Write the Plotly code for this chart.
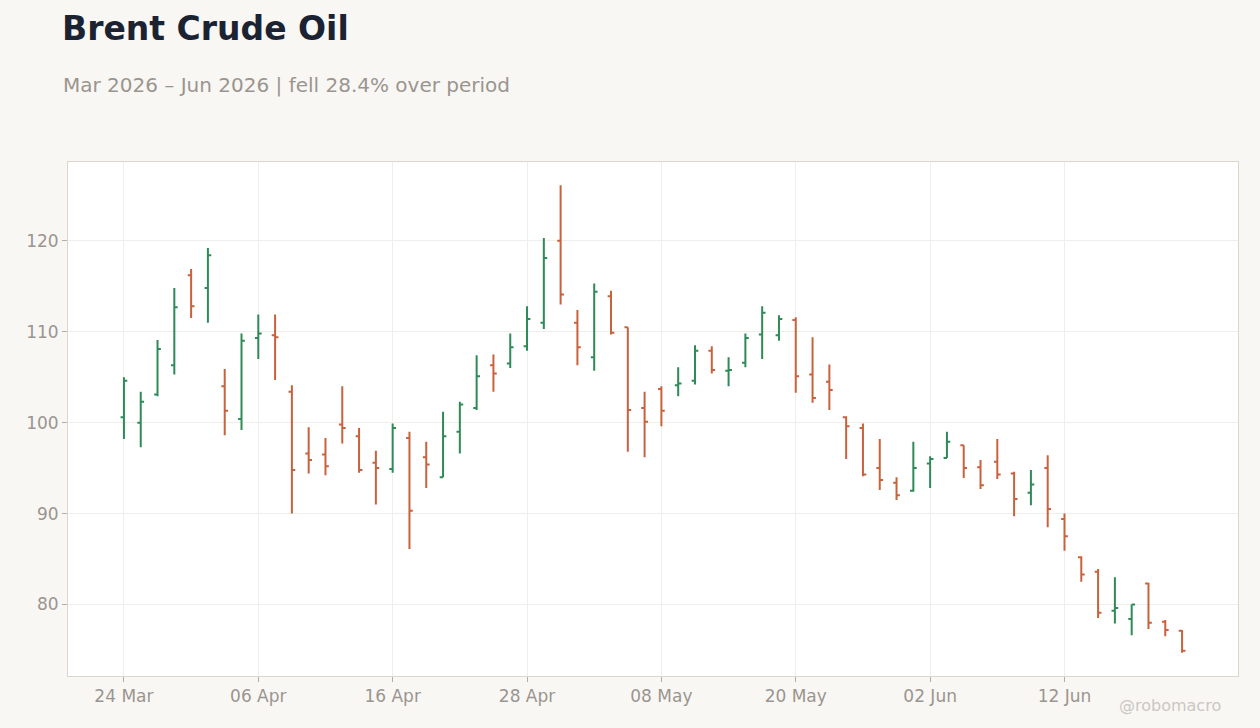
import plotly.graph_objects as go

# trading days (Good Friday and Memorial Day are missing)
dates = [
    "2026-03-24", "2026-03-25", "2026-03-26", "2026-03-27", "2026-03-30", "2026-03-31",
    "2026-04-01", "2026-04-02", "2026-04-06", "2026-04-07", "2026-04-08", "2026-04-09",
    "2026-04-10", "2026-04-13", "2026-04-14", "2026-04-15", "2026-04-16", "2026-04-17",
    "2026-04-20", "2026-04-21", "2026-04-22", "2026-04-23", "2026-04-24", "2026-04-27",
    "2026-04-28", "2026-04-29", "2026-04-30", "2026-05-01", "2026-05-04", "2026-05-05",
    "2026-05-06", "2026-05-07", "2026-05-08", "2026-05-11", "2026-05-12", "2026-05-13",
    "2026-05-14", "2026-05-15", "2026-05-18", "2026-05-19", "2026-05-20", "2026-05-21",
    "2026-05-22", "2026-05-26", "2026-05-27", "2026-05-28", "2026-05-29", "2026-06-01",
    "2026-06-02", "2026-06-03", "2026-06-04", "2026-06-05", "2026-06-08", "2026-06-09",
    "2026-06-10", "2026-06-11", "2026-06-12", "2026-06-15", "2026-06-16", "2026-06-17",
    "2026-06-18", "2026-06-19", "2026-06-22", "2026-06-23",
]

opens = [
    100.6, 100.0, 103.1, 106.3, 116.2, 114.8, 104.0, 100.4, 109.3, 109.6,
    103.4, 96.6, 96.5, 99.8, 98.5, 95.6, 94.9, 98.3, 96.2, 94.0,
    99.0, 101.6, 106.3, 106.5, 108.4, 111.0, 120.0, 111.0, 107.2, 113.9,
    110.5, 101.6, 103.7, 104.1, 104.6, 107.9, 105.7, 106.6, 109.7, 109.6,
    111.3, 105.3, 104.5, 100.6, 99.4, 95.0, 93.4, 92.5, 95.5, 96.1,
    97.5, 95.1, 95.7, 94.4, 92.3, 95.0, 89.4, 85.2, 83.6, 79.3,
    78.4, 82.3, 78.1, 77.1,
]
highs = [
    105.0, 103.4, 109.1, 114.8, 116.9, 119.2, 105.9, 109.8, 111.9, 111.9,
    104.1, 99.5, 98.3, 104.0, 99.4, 96.9, 99.9, 99.0, 97.9, 101.2,
    102.3, 107.4, 107.5, 109.8, 112.8, 120.3, 126.1, 112.4, 115.3, 114.5,
    110.5, 103.4, 104.0, 106.1, 108.5, 108.4, 107.2, 109.8, 112.8, 111.8,
    111.6, 109.4, 106.4, 100.7, 99.9, 98.2, 94.0, 97.9, 96.3, 99.0,
    97.5, 95.9, 98.2, 94.6, 94.8, 96.4, 90.0, 85.3, 83.9, 83.0,
    80.0, 82.4, 78.3, 77.2,
]
lows = [
    98.2, 97.3, 102.9, 105.3, 111.5, 111.0, 98.6, 99.2, 107.0, 104.7,
    90.0, 94.4, 94.2, 97.7, 94.5, 91.0, 94.5, 86.1, 92.8, 94.0,
    96.6, 101.4, 103.4, 106.0, 107.9, 110.3, 113.0, 106.3, 105.7, 109.7,
    96.8, 96.2, 99.6, 102.9, 104.2, 105.4, 104.0, 106.1, 107.0, 109.0,
    103.3, 102.2, 101.4, 96.0, 94.1, 92.6, 91.5, 92.4, 92.8, 96.1,
    93.9, 92.7, 93.8, 89.7, 90.9, 88.5, 85.9, 82.5, 78.5, 77.9,
    76.6, 77.3, 76.5, 74.7,
]
closes = [
    104.6, 102.3, 108.1, 112.7, 112.8, 118.4, 101.3, 109.0, 109.8, 109.4,
    94.8, 95.9, 95.2, 99.4, 94.8, 95.0, 99.4, 90.3, 95.4, 98.5,
    102.0, 105.1, 105.4, 108.3, 111.4, 118.1, 114.1, 108.3, 114.4, 109.9,
    101.4, 100.1, 101.3, 104.3, 107.9, 105.8, 105.8, 109.3, 112.1, 111.4,
    105.1, 102.7, 103.6, 99.6, 94.3, 93.7, 92.0, 95.0, 96.0, 97.9,
    95.0, 93.1, 94.3, 91.6, 93.2, 90.5, 87.5, 83.3, 79.1, 79.6,
    80.0, 78.0, 77.2, 74.9,
]

tick_dates = dates[::8]
month_names = {"03": "Mar", "04": "Apr", "05": "May", "06": "Jun"}
tick_text = [d[8:] + " " + month_names[d[5:7]] for d in tick_dates]

UP = "#2e8b57"
DOWN = "#c8623d"
MUTED = "#9a958f"

fig = go.Figure()
fig.add_trace(go.Ohlc(
    x=dates, open=opens, high=highs, low=lows, close=closes,
    increasing=dict(line=dict(color=UP, width=2)),
    decreasing=dict(line=dict(color=DOWN, width=2)),
    tickwidth=0.2,
    showlegend=False,
))

span = max(highs) - min(lows)
fig.update_layout(
    width=1260, height=728,
    paper_bgcolor="#f9f7f4",
    plot_bgcolor="#ffffff",
    font=dict(family="DejaVu Sans", color=MUTED, size=17),
    margin=dict(l=68, r=22, t=162, b=52),
    title=dict(
        text="<b>Brent Crude Oil</b>",
        font=dict(size=33, color="#1b2333", family="DejaVu Sans"),
        x=62 / 1260, xanchor="left", xref="container",
        y=1 - 28 / 728, yanchor="middle", yref="container",
    ),
    xaxis=dict(
        type="category",
        rangeslider=dict(visible=False),
        range=[-3.33, len(dates) - 1 + 3.33],
        tickvals=tick_dates, ticktext=tick_text,
        ticks="outside", ticklen=5, tickcolor="#b3ada6",
        showgrid=True, gridcolor="#f0eeeb",
        showline=True, mirror=True, linecolor="#ddd6cc", linewidth=1,
        tickfont=dict(size=17, color=MUTED),
    ),
    yaxis=dict(
        range=[min(lows) - 0.05 * span, max(highs) + 0.05 * span],
        dtick=10,
        ticks="outside", ticklen=5, tickcolor="#b3ada6",
        showgrid=True, gridcolor="#f0eeeb", zeroline=False,
        showline=True, mirror=True, linecolor="#ddd6cc", linewidth=1,
        tickfont=dict(size=17, color=MUTED),
    ),
    annotations=[
        dict(
            text="Mar 2026 – Jun 2026 | fell 28.4% over period",
            xref="paper", yref="paper", x=(61 - 68) / 1170, y=1 + (162 - 85) / 514,
            xanchor="left", yanchor="middle", showarrow=False,
            font=dict(size=20, color=MUTED),
        ),
        dict(
            text="@robomacro",
            xref="paper", yref="paper", x=(1223 - 68) / 1170, y=(676 - 705) / 514,
            xanchor="right", yanchor="middle", showarrow=False,
            font=dict(size=16, color="#cbc7c2"),
        ),
    ],
)

# drop the default page margin so the 1260x728 figure fills the window
fig.write_html(
    "out.html",
    config={"displayModeBar": False},
    post_script="document.body.style.margin='0';",
)
